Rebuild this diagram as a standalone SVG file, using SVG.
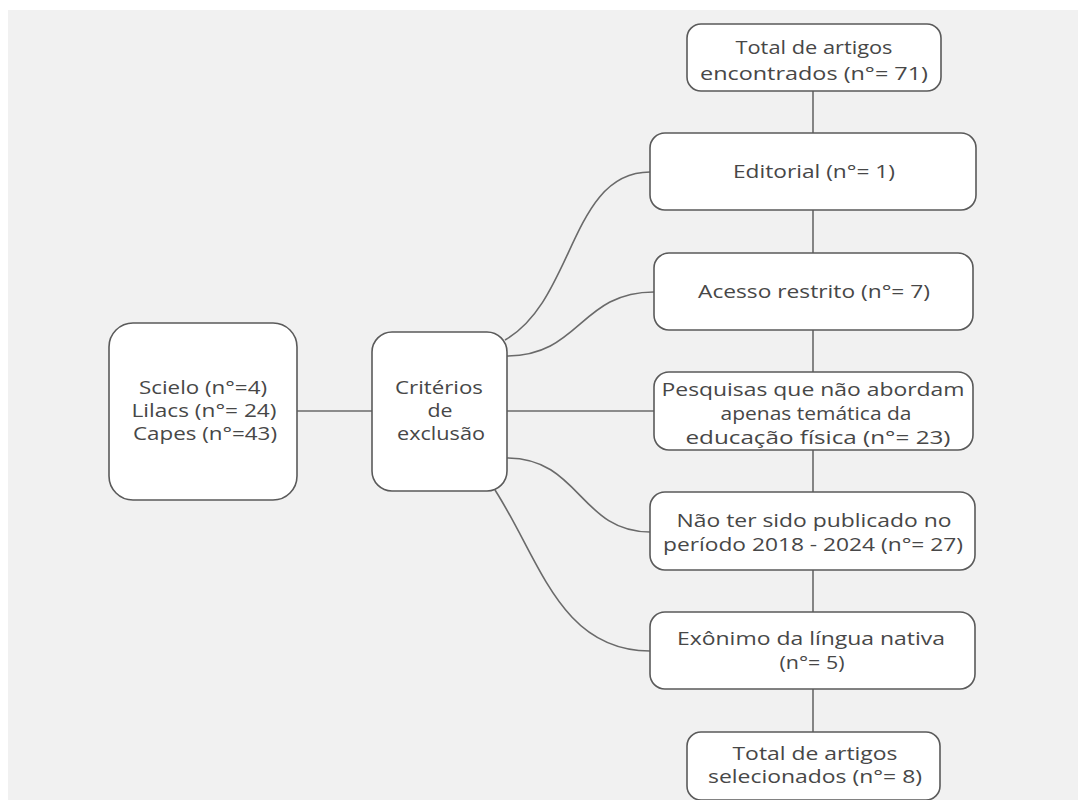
<svg xmlns="http://www.w3.org/2000/svg" width="1078" height="800" viewBox="0 0 1078 800">
<style>
.box{fill:#ffffff;stroke:#5a5a5a;stroke-width:1.6}
.t{font-family:"Open Sans","Liberation Sans",sans-serif;font-size:18px;fill:#474747;text-anchor:middle}
.c{fill:none;stroke:#6a6a6a;stroke-width:1.6}
</style>
<rect x="0" y="0" width="1078" height="800" fill="#ffffff"/>
<rect x="8" y="10" width="1070" height="790" fill="#f1f1f1"/>
<g id="connectors">
<line class="c" x1="813" y1="91" x2="813" y2="732"/>
<line class="c" x1="297" y1="411" x2="372" y2="411"/>
<path class="c" d="M505,340 C575,300 570,172 650,172"/>
<path class="c" d="M507,356 C580,356 580,292 654,292"/>
<path class="c" d="M507,411 L654,411"/>
<path class="c" d="M507,458 C580,458 580,532 650,532"/>
<path class="c" d="M495,490 C540,560 560,651 650,651"/>
</g>
<g id="n-total">
<rect class="box" x="687" y="24" width="254" height="67" rx="14"/>
<text class="t" x="814" y="54" textLength="157" lengthAdjust="spacingAndGlyphs">Total de artigos</text>
<text class="t" x="814" y="80" textLength="228" lengthAdjust="spacingAndGlyphs">encontrados (n°= 71)</text>
</g>
<g id="n-editorial">
<rect class="box" x="650" y="133" width="326" height="77" rx="15"/>
<text class="t" x="814" y="178" textLength="162" lengthAdjust="spacingAndGlyphs">Editorial (n°= 1)</text>
</g>
<g id="n-acesso">
<rect class="box" x="654" y="253" width="319" height="77" rx="15"/>
<text class="t" x="814" y="298" textLength="232" lengthAdjust="spacingAndGlyphs">Acesso restrito (n°= 7)</text>
</g>
<g id="n-pesquisas">
<rect class="box" x="654" y="372" width="319" height="78" rx="15"/>
<text class="t" x="813" y="396" textLength="303" lengthAdjust="spacingAndGlyphs">Pesquisas que não abordam</text>
<text class="t" x="816" y="420" textLength="191" lengthAdjust="spacingAndGlyphs">apenas temática da</text>
<text class="t" x="818" y="444" textLength="265" lengthAdjust="spacingAndGlyphs">educação física (n°= 23)</text>
</g>
<g id="n-periodo">
<rect class="box" x="650" y="492" width="325" height="78" rx="15"/>
<text class="t" x="814" y="527" textLength="275" lengthAdjust="spacingAndGlyphs">Não ter sido publicado no</text>
<text class="t" x="813" y="551" textLength="300" lengthAdjust="spacingAndGlyphs">período 2018 - 2024 (n°= 27)</text>
</g>
<g id="n-exonimo">
<rect class="box" x="650" y="612" width="325" height="77" rx="15"/>
<text class="t" x="811" y="645" textLength="268" lengthAdjust="spacingAndGlyphs">Exônimo da língua nativa</text>
<text class="t" x="812" y="669" textLength="65" lengthAdjust="spacingAndGlyphs">(n°= 5)</text>
</g>
<g id="n-selecionados">
<rect class="box" x="687" y="732" width="253" height="68" rx="14"/>
<text class="t" x="815" y="760" textLength="165" lengthAdjust="spacingAndGlyphs">Total de artigos</text>
<text class="t" x="815" y="783" textLength="214" lengthAdjust="spacingAndGlyphs">selecionados (n°= 8)</text>
</g>
<g id="n-bases">
<rect class="box" x="109" y="323" width="188" height="177" rx="24"/>
<text class="t" x="203" y="394" textLength="128" lengthAdjust="spacingAndGlyphs">Scielo (n°=4)</text>
<text class="t" x="204" y="417" textLength="145" lengthAdjust="spacingAndGlyphs">Lilacs (n°= 24)</text>
<text class="t" x="205" y="440" textLength="144" lengthAdjust="spacingAndGlyphs">Capes (n°=43)</text>
</g>
<g id="n-criterios">
<rect class="box" x="372" y="332" width="135" height="159" rx="20"/>
<text class="t" x="439" y="394" textLength="88" lengthAdjust="spacingAndGlyphs">Critérios</text>
<text class="t" x="440" y="417" textLength="25" lengthAdjust="spacingAndGlyphs">de</text>
<text class="t" x="441" y="440" textLength="88" lengthAdjust="spacingAndGlyphs">exclusão</text>
</g>
</svg>
